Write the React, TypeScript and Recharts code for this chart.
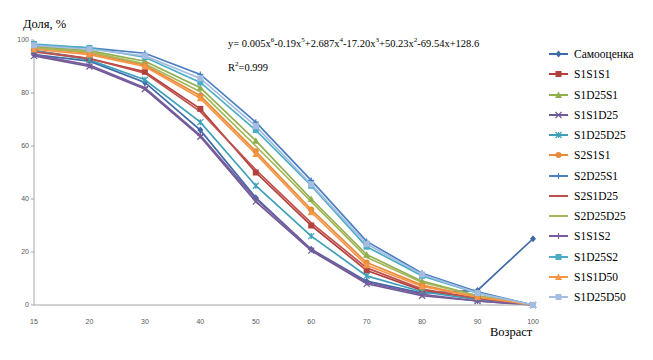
import React from 'react'
import { LineChart, Line, XAxis, YAxis } from 'recharts'

const ages = ['15', '20', '30', '40', '50', '60', '70', '80', '90', '100']
const yTicks = [0, 20, 40, 60, 80, 100]

const samoocenka = [94.5, 92, 84, 66, 40.5, 21, 9, 4.5, 5.5, 25]
const s1s1s1 = [96, 93, 88, 74, 50, 30, 13, 5.5, 2.5, 0]
const s1d25s1 = [97.5, 96, 92, 82, 62, 40, 19, 9, 3.5, 0]
const s1s1d25 = [94, 90, 81.5, 63.5, 39, 20.5, 8, 3.5, 1.5, 0]
const s1d25d25 = [96, 92.5, 85, 69, 45, 26, 11, 5, 2, 0]
const s2s1s1 = [97, 95, 90.5, 79, 58, 36, 16, 7.5, 3, 0]
const s2d25s1 = [98, 97, 95, 87, 69, 47, 24, 12, 5, 0]
const s2s1d25 = [95.5, 93, 87.5, 73, 51, 31, 14, 6, 2.5, 0]
const s2d25d25 = [97, 95.5, 91, 80.5, 60, 39, 18, 8.5, 3.5, 0]
const s1s1s2 = [94.5, 90.5, 82, 64, 40, 21, 8.5, 4, 1.5, 0]
const s1d25s2 = [98.5, 97, 93.5, 84, 66, 45, 22, 11, 4.5, 0]
const s1s1d50 = [96.5, 94.5, 90, 78, 57, 35, 15, 7, 3, 0]
const s1d25d50 = [98, 96.5, 94, 85.5, 67.5, 45.5, 23, 11.5, 4.5, 0]

type Shape = 'diamond' | 'square' | 'triangle' | 'cross' | 'star' | 'circle' | 'plus' | 'none'

const series: { name: string; values: number[]; color: string; marker: Shape }[] = [
  { name: 'Самооценка', values: samoocenka, color: '#3E6BA8', marker: 'diamond' },
  { name: 'S1S1S1', values: s1s1s1, color: '#B2403C', marker: 'square' },
  { name: 'S1D25S1', values: s1d25s1, color: '#8FAE4E', marker: 'triangle' },
  { name: 'S1S1D25', values: s1s1d25, color: '#6E5A96', marker: 'cross' },
  { name: 'S1D25D25', values: s1d25d25, color: '#3EA0B8', marker: 'star' },
  { name: 'S2S1S1', values: s2s1s1, color: '#E88B3A', marker: 'circle' },
  { name: 'S2D25S1', values: s2d25s1, color: '#4A7EC0', marker: 'plus' },
  { name: 'S2S1D25', values: s2s1d25, color: '#C0504D', marker: 'none' },
  { name: 'S2D25D25', values: s2d25d25, color: '#A6B65A', marker: 'none' },
  { name: 'S1S1S2', values: s1s1s2, color: '#7A5C9E', marker: 'plus' },
  { name: 'S1D25S2', values: s1d25s2, color: '#4BACC6', marker: 'square' },
  { name: 'S1S1D50', values: s1s1d50, color: '#F79646', marker: 'triangle' },
  { name: 'S1D25D50', values: s1d25d50, color: '#A4BDE0', marker: 'square' },
]

const data = ages.map((age, i) => {
  const row: Record<string, string | number> = { age }
  series.forEach(s => { row[s.name] = s.values[i] })
  return row
})

const Marker = ({ cx, cy, shape, color }: { cx: number; cy: number; shape: Shape; color: string }) => {
  const s = 3
  switch (shape) {
    case 'diamond':
      return <path d={`M${cx},${cy - s - 0.5}L${cx + s},${cy}L${cx},${cy + s + 0.5}L${cx - s},${cy}Z`} fill={color} />
    case 'square':
      return <rect x={cx - s} y={cy - s} width={2 * s} height={2 * s} fill={color} />
    case 'triangle':
      return <path d={`M${cx},${cy - s - 0.5}L${cx + s + 0.5},${cy + s}L${cx - s - 0.5},${cy + s}Z`} fill={color} />
    case 'circle':
      return <circle cx={cx} cy={cy} r={s} fill={color} />
    case 'cross':
      return <path d={`M${cx - s},${cy - s}L${cx + s},${cy + s}M${cx - s},${cy + s}L${cx + s},${cy - s}`} stroke={color} strokeWidth={1.2} />
    case 'star':
      return <path d={`M${cx - s},${cy - s}L${cx + s},${cy + s}M${cx - s},${cy + s}L${cx + s},${cy - s}M${cx},${cy - s}L${cx},${cy + s}`} stroke={color} strokeWidth={1.2} />
    case 'plus':
      return <path d={`M${cx - s},${cy}L${cx + s},${cy}M${cx},${cy - s}L${cx},${cy + s}`} stroke={color} strokeWidth={1.2} />
    default:
      return <g />
  }
}

const LegendBox = () => (
  <div style={{ position: 'absolute', left: 548, top: 44, fontFamily: '"Liberation Serif", serif', fontSize: 11.5, color: '#000' }}>
    {series.map(s => (
      <div key={s.name} style={{ height: 20.25, display: 'flex', alignItems: 'center' }}>
        <svg width={22} height={10} style={{ marginRight: 4 }}>
          <line x1={1} y1={5} x2={20} y2={5} stroke={s.color} strokeWidth={2} />
          <Marker cx={10.5} cy={5} shape={s.marker} color={s.color} />
        </svg>
        <span>{s.name}</span>
      </div>
    ))}
  </div>
)

const tickStyle = { fontSize: 7, fill: '#595959', fontFamily: '"Liberation Sans", Arial, sans-serif' }

export default function App() {
  return (
    <div style={{ position: 'absolute', left: 0, top: 0, width: 653, height: 360, background: '#fff' }}>
      <LineChart width={653} height={360} data={data}
        margin={{ top: 40, right: 120, left: 8, bottom: 25 }}>
        <XAxis dataKey="age" stroke="#A6A6A6" tickLine={false} tick={tickStyle} tickMargin={8} height={30} />
        <YAxis domain={[0, 100]} ticks={yTicks} stroke="#A6A6A6" tickSize={3} tick={tickStyle} width={26} interval={0} />
        {series.map(s => (
          <Line key={s.name} dataKey={s.name} type="linear" stroke={s.color} strokeWidth={1.7}
            isAnimationActive={false}
            dot={s.marker === 'none' ? false : (p: any) => (
              <Marker key={`${s.name}-${p.index}`} cx={p.cx} cy={p.cy} shape={s.marker} color={s.color} />
            )}
            activeDot={false} />
        ))}
      </LineChart>
      <LegendBox />
      <div style={{ position: 'absolute', left: 23, top: 17, fontFamily: '"Liberation Serif", serif', fontSize: 12.5 }}>
        Доля, %
      </div>
      <div style={{ position: 'absolute', left: 490, top: 325, fontFamily: '"Liberation Serif", serif', fontSize: 12.5 }}>
        Возраст
      </div>
      <div style={{ position: 'absolute', left: 228, top: 30, fontFamily: '"Liberation Serif", serif', fontSize: 10.5, lineHeight: '20px', whiteSpace: 'nowrap' }}>
        <div>y= 0.005x<sup style={{ fontSize: 7 }}>6</sup>-0.19x<sup style={{ fontSize: 7 }}>5</sup>+2.687x<sup style={{ fontSize: 7 }}>4</sup>-17.20x<sup style={{ fontSize: 7 }}>3</sup>+50.23x<sup style={{ fontSize: 7 }}>2</sup>-69.54x+128.6</div>
        <div>R<sup style={{ fontSize: 7 }}>2</sup>=0.999</div>
      </div>
    </div>
  )
}
